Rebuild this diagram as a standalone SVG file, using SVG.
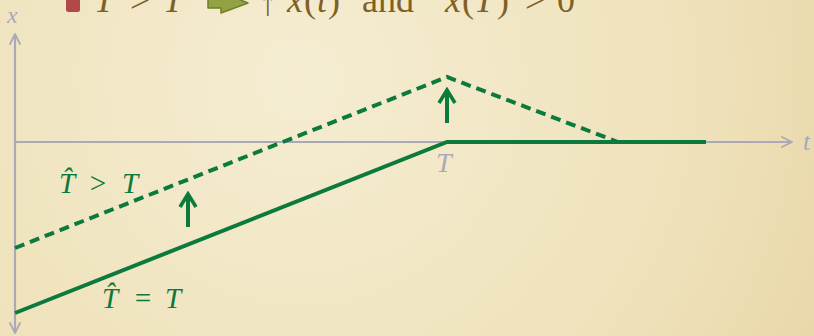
<svg xmlns="http://www.w3.org/2000/svg" width="814" height="336" viewBox="0 0 814 336">
<defs>
<radialGradient id="bg" cx="300" cy="80" r="650" gradientUnits="userSpaceOnUse">
<stop offset="0" stop-color="#f5edd2"/>
<stop offset="0.6" stop-color="#efe2bb"/>
<stop offset="1" stop-color="#e6d3a2"/>
</radialGradient>
<marker id="ax" viewBox="0 0 12 12" refX="11" refY="6" markerWidth="12" markerHeight="12" markerUnits="userSpaceOnUse" orient="auto">
<path d="M1,1 L11,6 L1,11" fill="none" stroke="#a9a9b9" stroke-width="1.8" stroke-linecap="round" stroke-linejoin="round"/>
</marker>
<marker id="gr" viewBox="0 0 20 20" refX="17" refY="10" markerWidth="20" markerHeight="20" markerUnits="userSpaceOnUse" orient="auto">
<path d="M4,2 L17,10 L4,18" fill="none" stroke="#0b7a3c" stroke-width="3.6" stroke-linecap="butt" stroke-linejoin="miter"/>
</marker>
</defs>
<style>
.axis{stroke:#a9a9b9;stroke-width:2.2;fill:none}
.g{stroke:#0b7a3c;stroke-width:4;fill:none}
.dash{stroke-dasharray:10 6}
.top{font-family:"Liberation Serif",serif;font-size:36px;fill:#7f6126}
.it{font-style:italic}
.lab{font-family:"Liberation Serif",serif;font-style:italic;fill:#0b7a3c;font-size:29px}
.grey{font-family:"Liberation Serif",serif;font-style:italic;fill:#a9a9b9}
</style>
<rect width="814" height="336" fill="url(#bg)"/>

<g id="header">
<rect x="66" y="-6" width="14" height="18" rx="2.5" fill="#b34848"/>
<text class="top it" x="94" y="12">T̂</text>
<text class="top" x="130" y="12">&gt;</text>
<text class="top it" x="163" y="12">T</text>
<path d="M208,-3 H221 V-8 L248,3 L221,13 V8 H208 Z" fill="#93a244" stroke="#6f7f2c" stroke-width="1.5" stroke-linejoin="round"/>
<text class="top" x="268" y="15" text-anchor="middle" font-size="48">↑</text>
<text class="top it" x="287" y="12">x</text>
<text class="top" x="304" y="12">(</text>
<text class="top it" x="317" y="12">t</text>
<text class="top" x="328" y="12">)</text>
<text class="top" x="362" y="12">and</text>
<text class="top it" x="445" y="12">x</text>
<text class="top" x="462" y="12">(</text>
<text class="top it" x="474" y="12">T</text>
<text class="top" x="497" y="12">)</text>
<text class="top" x="525" y="12">&gt;</text>
<text class="top" x="557" y="12">0</text>
</g>

<g id="axes">
<line class="axis" x1="15" y1="142" x2="15" y2="34" marker-end="url(#ax)"/>
<line class="axis" x1="15" y1="142" x2="15" y2="333" marker-end="url(#ax)"/>
<line class="axis" x1="15" y1="142" x2="792" y2="142" marker-end="url(#ax)"/>
<text class="grey" x="7" y="23" font-size="24">x</text>
<text class="grey" x="803" y="150" font-size="26">t</text>
<text class="grey" x="436" y="172" font-size="28">T</text>
</g>

<g id="connectors">
<polyline class="g" points="15,313 447,142 706,142"/>
<polyline class="g dash" points="15,248 447,77 618,142 706,142"/>
<line class="g" x1="447" y1="123" x2="447" y2="90" marker-end="url(#gr)"/>
<line class="g" x1="188" y1="227" x2="188" y2="194" marker-end="url(#gr)"/>
</g>

<g id="label-gt">
<text class="lab" x="59" y="193">T̂</text>
<text class="lab" x="88" y="193" font-style="normal">&gt;</text>
<text class="lab" x="122" y="193">T</text>
</g>
<g id="label-eq">
<text class="lab" x="102" y="308">T̂</text>
<text class="lab" x="133" y="308" font-style="normal">=</text>
<text class="lab" x="165" y="308">T</text>
</g>
</svg>
